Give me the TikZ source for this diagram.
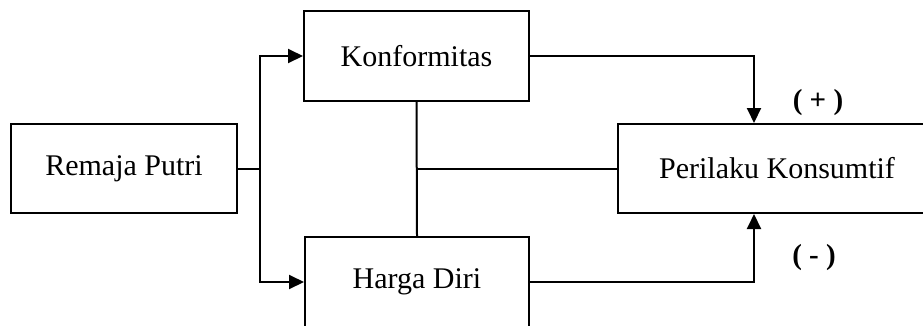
\documentclass[tikz,border=0pt]{standalone}
\usepackage{fontspec}
\setmainfont{Liberation Serif}
\usetikzlibrary{arrows.meta,calc}
\begin{document}
\begin{tikzpicture}[x=1pt,y=-1pt,
  box/.style={draw,line width=2pt,inner sep=0pt,font=\fontsize{30}{36}\selectfont},
  conn/.style={line width=2pt},
  arr/.style={conn,-{Triangle[length=15pt,width=14pt]}},
  sign/.style={font=\fontsize{29}{34}\selectfont\bfseries,inner sep=0pt}]
\useasboundingbox (0,0) rectangle (923,325);
\node[box,minimum width=226pt,minimum height=89pt] (rp) at (124,168.5) {Remaja Putri};
\node[box,minimum width=225pt,minimum height=90pt] (kf) at (416.5,56) {Konformitas};
\node[box,minimum width=224pt,minimum height=90pt] (hd) at (417,282) {Harga Diri};
\node[box,minimum width=318pt,minimum height=89pt] (pk) at (777,168.5) {Perilaku Konsumtif};
\draw[conn] (rp.east) -- ++(22,0) coordinate (j1);
\draw[arr] (j1) |- (kf.west);
\draw[arr] (j1) |- (hd.west);
\draw[conn] (kf.south) -- (hd.north);
\draw[conn] (kf.south |- pk.west) -- (pk.west);
\draw[arr] (kf.east) -| ([xshift=-23pt]pk.north);
\draw[arr] (hd.east) -| ([xshift=-23pt]pk.south);
\node[sign] (plus) at (818,103) {( + )};
\node[sign] (minus) at (814,258) {( - )};
\end{tikzpicture}
\end{document}
